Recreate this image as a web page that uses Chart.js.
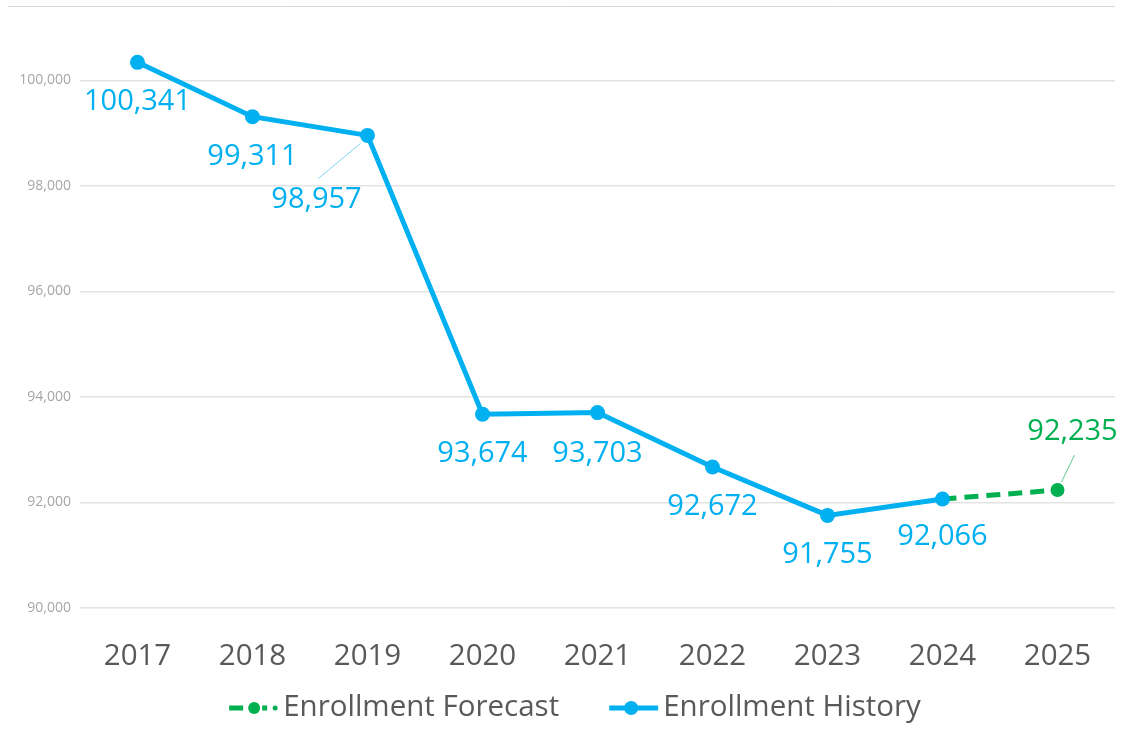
<!DOCTYPE html>
<html>
<head>
<meta charset="utf-8">
<script src="https://cdn.jsdelivr.net/npm/chart.js@4/dist/chart.umd.min.js"></script>
<style>
  html, body { margin: 0; padding: 0; background: #ffffff; }
  #wrap { width: 1132px; height: 742px; position: relative; }
</style>
</head>
<body>
<div id="wrap"><canvas id="c" width="1132" height="742"></canvas></div>
<script>
const categories = ['2017', '2018', '2019', '2020', '2021', '2022', '2023', '2024', '2025'];
const historyValues = [100341, 99311, 98957, 93674, 93703, 92672, 91755, 92066, null];
const forecastValues = [null, null, null, null, null, null, null, 92066, 92235];
const seriesNames = ['Enrollment Forecast', 'Enrollment History'];
const yTicks = [90000, 92000, 94000, 96000, 98000, 100000];

const BLUE = '#00B0F0';
const GREEN = '#00B050';
const FONT = "'Open Sans', 'Noto Sans', sans-serif";

// label placement relative to the point (pixels) and optional leader lines
const historyLabelOffsets = [[0, 39], [0, 40], [-51, 64], [0, 40], [0, 41], [0, 40], [0, 39], [0, 38], null];
const historyLeaders = [null, null, [[-7, 8], [-49, 43]], null, null, null, null, null, null];
const forecastLabelOffsets = [null, null, null, null, null, null, null, null, [15, -58]];
const forecastLeaders = [null, null, null, null, null, null, null, null, [[17, -35], [4, -8]]];

const fmt = v => v.toLocaleString('en-US');

const dataLabels = {
  id: 'dataLabels',
  afterDatasetsDraw(chart) {
    const ctx = chart.ctx;
    const specs = [
      { ds: 1, offsets: historyLabelOffsets, leaders: historyLeaders, color: BLUE, lineColor: '#7FD4F5' },
      { ds: 0, offsets: forecastLabelOffsets, leaders: forecastLeaders, color: GREEN, lineColor: '#5CC98C' }
    ];
    ctx.save();
    ctx.font = '29px ' + FONT;
    ctx.textAlign = 'center';
    ctx.textBaseline = 'middle';
    specs.forEach(s => {
      const meta = chart.getDatasetMeta(s.ds);
      const values = chart.data.datasets[s.ds].data;
      meta.data.forEach((pt, i) => {
        const off = s.offsets[i];
        if (!off || values[i] == null) return;
        const lead = s.leaders[i];
        if (lead) {
          ctx.strokeStyle = s.lineColor;
          ctx.lineWidth = 1;
          ctx.beginPath();
          ctx.moveTo(pt.x + lead[0][0], pt.y + lead[0][1]);
          ctx.lineTo(pt.x + lead[1][0], pt.y + lead[1][1]);
          ctx.stroke();
        }
        ctx.fillStyle = s.color;
        ctx.fillText(fmt(values[i]), pt.x + off[0], pt.y + off[1]);
      });
    });
    ctx.restore();
  }
};

const customLegend = {
  id: 'customLegend',
  beforeDraw(chart) {
    const ctx = chart.ctx;
    ctx.save();
    ctx.strokeStyle = '#D9D9D9';
    ctx.lineWidth = 1;
    ctx.beginPath();
    ctx.moveTo(8, 6.5);
    ctx.lineTo(chart.chartArea.right, 6.5);
    ctx.stroke();
    ctx.restore();
  },
  afterDraw(chart) {
    const ctx = chart.ctx;
    ctx.save();
    ctx.font = '29.5px ' + FONT;
    ctx.textBaseline = 'middle';
    ctx.fillStyle = '#595959';
    const y = 708;
    const markerW = 51, gapAfterMarker = 3, gapBetween = 50;
    const w0 = ctx.measureText(seriesNames[0]).width;
    const w1 = ctx.measureText(seriesNames[1]).width;
    const total = markerW + gapAfterMarker + w0 + gapBetween + markerW + gapAfterMarker + w1;
    let x = 575 - total / 2;
    // forecast marker: dashed line with dot
    ctx.strokeStyle = GREEN;
    ctx.fillStyle = GREEN;
    ctx.lineWidth = 5;
    ctx.beginPath(); ctx.moveTo(x, y); ctx.lineTo(x + 14, y); ctx.stroke();
    ctx.beginPath(); ctx.arc(x + 25, y, 6, 0, Math.PI * 2); ctx.fill();
    ctx.beginPath(); ctx.moveTo(x + 33, y); ctx.lineTo(x + 38, y); ctx.stroke();
    ctx.beginPath(); ctx.arc(x + 46, y, 2.5, 0, Math.PI * 2); ctx.fill();
    x += markerW + gapAfterMarker;
    ctx.fillStyle = '#595959';
    ctx.fillText(seriesNames[0], x, y);
    x += w0 + gapBetween;
    // history marker
    ctx.strokeStyle = BLUE;
    ctx.fillStyle = BLUE;
    ctx.beginPath(); ctx.moveTo(x, y); ctx.lineTo(x + 49, y); ctx.stroke();
    ctx.beginPath(); ctx.arc(x + 22, y, 7, 0, Math.PI * 2); ctx.fill();
    x += markerW + gapAfterMarker;
    ctx.fillStyle = '#595959';
    ctx.fillText(seriesNames[1], x, y);
    ctx.restore();
  }
};

new Chart(document.getElementById('c'), {
  type: 'line',
  data: {
    labels: categories,
    datasets: [
      {
        label: seriesNames[0],
        data: forecastValues,
        borderColor: GREEN,
        backgroundColor: GREEN,
        borderWidth: 5,
        borderDash: [14, 8],
        pointRadius: [0, 0, 0, 0, 0, 0, 0, 0, 7],
        pointBackgroundColor: GREEN,
        pointBorderWidth: 0,
        spanGaps: false,
        order: 1
      },
      {
        label: seriesNames[1],
        data: historyValues,
        borderColor: BLUE,
        backgroundColor: BLUE,
        borderWidth: 5,
        pointRadius: 7.5,
        pointBackgroundColor: BLUE,
        pointBorderWidth: 0,
        tension: 0,
        order: 0
      }
    ]
  },
  options: {
    responsive: false,
    animation: false,
    events: [],
    layout: { padding: { top: 7, right: 17, left: 0, bottom: 0 } },
    plugins: { legend: { display: false }, tooltip: { enabled: false } },
    scales: {
      x: {
        offset: true,
        grid: { display: false },
        border: { display: false },
        ticks: { color: '#595959', font: { family: FONT, size: 29.5 }, padding: 23, maxRotation: 0 },
        afterFit(scale) { scale.height = 134; }
      },
      y: {
        min: 90000,
        max: 101193,
        grid: { color: '#E3E3E3', lineWidth: 1.5, drawTicks: false },
        border: { display: false },
        afterBuildTicks(scale) { scale.ticks = yTicks.map(v => ({ value: v })); },
        ticks: {
          color: '#A6A6A6',
          font: { family: FONT, size: 14 },
          padding: 9,
          callback: v => fmt(v)
        },
        afterFit(scale) { scale.width = 80; }
      }
    }
  },
  plugins: [dataLabels, customLegend]
});
</script>
</body>
</html>
